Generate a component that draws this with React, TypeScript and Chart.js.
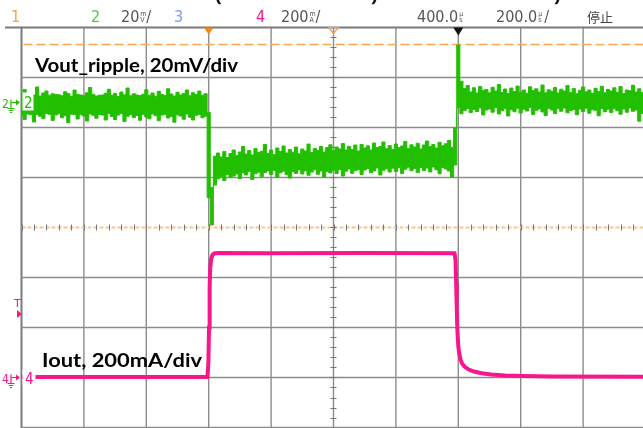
import React, { useEffect, useRef } from "react";
import { Chart, registerables } from "chart.js";

Chart.register(...registerables);

// ---- axes (oscilloscope screen) ----
const X_MIN_US = -600;
const X_MAX_US = 1400;
const X_DIV_US = 200;
const DIV_MIN = -4;
const DIV_MAX = 4;
const CH2_GROUND_DIV = 2.5;
const CH2_MV_PER_DIV = 20;
const CH4_GROUND_DIV = -3;
const CH4_MA_PER_DIV = 200;
const TRIG_LEVEL_DIV = 3.66;
const TRIG_TIME_US = 0;
const DELAY_TIME_US = 400;
const MARK_TIME_US = 800;

// ---- channel 2 (Vout ripple, mV), sampled every 10 us: envelope top / bottom ----
const SAMPLE_US = 10;
const PRE_START_US = -600;
const LOAD_START_US = 0;
const POST_START_US = 800;

const CH2_PRE_HI = [
  3.4, 5.2, 2.8, 3.1, 3.0, 6.2, 2.6, 3.8, 4.6, 2.9,
  3.5, 3.2, 3.1, 2.7, 4.3, 3.6, 2.5, 5.0, 3.2, 3.0,
  2.8, 3.9, 6.0, 3.3, 2.6, 2.9, 3.0, 3.7, 5.3, 2.9,
  3.6, 2.4, 4.2, 3.1, 5.8, 2.7, 3.5, 3.0, 2.8, 3.3,
  5.1, 2.9, 3.8, 2.5, 4.5, 3.2, 2.8, 5.5, 3.4, 2.6,
  4.1, 3.0, 3.6, 5.0, 2.7, 3.9, 3.2, 4.6, 2.9, 3.5,
];
const CH2_PRE_LO = [
  -5.2, -6.8, -4.6, -4.9, -7.8, -4.8, -5.5, -6.4, -4.4, -4.7,
  -7.2, -5.0, -4.5, -6.1, -5.3, -8.0, -4.7, -4.8, -6.6, -4.9,
  -5.4, -7.4, -4.6, -5.1, -6.3, -4.8, -5.0, -7.0, -4.5, -5.6,
  -6.8, -5.0, -4.4, -7.6, -5.5, -4.9, -6.0, -5.2, -7.1, -4.7,
  -5.8, -6.5, -4.6, -5.3, -7.3, -5.0, -4.8, -6.2, -5.6, -7.9,
  -4.9, -5.4, -6.7, -4.6, -5.9, -7.0, -5.1, -4.8, -6.1, -5.5,
];
const CH2_LOAD_HI = [
  -4.0, -34.0, -21.5, -20.2, -21.8, -19.6, -22.0, -20.4, -19.0, -21.2,
  -19.8, -17.6, -20.6, -19.2, -21.0, -18.4, -20.0, -19.5, -16.8, -20.3,
  -19.0, -20.8, -18.2, -19.6, -17.4, -20.2, -18.8, -19.9, -17.8, -20.5,
  -18.6, -19.4, -16.6, -20.0, -18.4, -19.2, -17.6, -19.8, -18.0, -16.9,
  -19.3, -17.8, -18.6, -16.4, -19.0, -17.5, -18.8, -17.0, -19.4, -16.8,
  -18.2, -17.3, -19.0, -16.2, -18.0, -17.6, -15.8, -18.5, -17.2, -18.8,
  -16.6, -18.1, -17.4, -15.6, -18.4, -16.9, -17.8, -16.3, -18.6, -17.0,
  -15.4, -17.6, -16.8, -18.2, -15.9, -17.3, -16.5, -15.2, -17.9, -10.0,
];
const CH2_LOAD_LO = [
  -38.0, -49.0, -33.0, -30.5, -29.6, -31.2, -28.8, -30.0, -29.4, -28.6,
  -30.4, -28.2, -29.0, -27.6, -30.8, -28.5, -27.9, -29.6, -28.0, -27.4,
  -28.8, -27.2, -29.8, -28.1, -27.5, -28.9, -30.2, -27.7, -28.4, -27.0,
  -28.6, -27.3, -29.1, -27.8, -26.9, -28.7, -27.4, -30.0, -27.6, -28.2,
  -27.1, -28.4, -26.8, -29.4, -27.5, -26.6, -28.3, -27.2, -26.9, -28.8,
  -27.0, -26.4, -28.1, -27.4, -26.2, -29.0, -27.1, -26.5, -27.8, -26.3,
  -27.6, -26.1, -28.4, -26.7, -25.9, -27.3, -26.4, -28.0, -26.0, -27.2,
  -26.2, -27.8, -25.8, -26.9, -28.5, -26.0, -26.6, -27.4, -30.0, -25.0,
];
const CH2_POST_HI = [
  23.0, 8.5, 5.6, 6.8, 4.2, 5.9, 3.8, 6.4, 4.9, 5.2,
  3.9, 6.1, 4.6, 7.2, 4.0, 5.4, 3.6, 5.8, 4.4, 6.6,
  4.1, 5.0, 3.7, 6.3, 4.8, 5.5, 4.2, 7.0, 3.9, 5.1,
  4.5, 6.0, 3.8, 5.3, 4.6, 6.8, 4.0, 5.6, 3.5, 4.9,
  6.2, 4.3, 5.0, 3.7, 5.7, 4.4, 6.5, 3.9, 5.2, 4.6,
  5.9, 4.1, 6.4, 3.6, 5.0, 4.7, 6.9, 4.2, 5.5, 4.0,
  5.3,
];
const CH2_POST_LO = [
  -2.0, -4.5, -3.2, -2.4, -4.0, -2.8, -3.6, -2.2, -5.0, -3.0,
  -2.6, -3.9, -2.1, -4.6, -3.3, -2.5, -5.4, -2.9, -3.7, -2.3,
  -4.2, -2.7, -3.4, -2.0, -4.8, -3.1, -2.6, -3.8, -5.2, -2.4,
  -3.0, -4.4, -2.5, -3.5, -2.2, -4.1, -3.2, -2.8, -4.9, -2.6,
  -3.6, -2.3, -4.3, -2.9, -3.1, -5.3, -2.4, -3.7, -2.7, -4.0,
  -2.5, -3.3, -4.7, -2.6, -3.9, -2.2, -3.5, -3.0, -7.5, -4.4,
  -3.2,
];

// ---- channel 4 (Iout, mA) ----
const CH4_T_US = [
  -600, -4, -1, 1, 3, 5, 8, 12, 18, 30, 200, 500, 788, 791, 793, 795, 797,
  800, 803, 807, 812, 820, 832, 850, 875, 905, 950, 1010, 1100, 1400,
];
const CH4_MA = [
  2, 2, 60, 200, 360, 440, 475, 490, 496, 498, 497, 498, 497, 470, 380, 280, 190,
  125, 95, 72, 56, 44, 33, 24, 17, 12, 8, 6, 4, 3,
];

// ---- texts ----
const LABEL_VOUT = "Vout_ripple, 20mV/div";
const LABEL_IOUT = "Iout, 200mA/div";
const STATUS_STOP = "停止";
const CUT_TITLE = [
  { s: "(", x: 215 },
  { s: ")", x: 371 },
  { s: ")", x: 554 },
];

const GREEN = "#22bf00";
const PINK = "#f7168b";
const ORANGE = "#f9a552";
const GRID = "#8c8c8c";

function seg(start: number, vals: number[]) {
  return vals.map((v, i) => ({ x: start + i * SAMPLE_US, y: v }));
}

export default function App() {
  const ref = useRef<HTMLCanvasElement>(null);
  useEffect(() => {
    const canvas = ref.current!;
    const hi = [
      ...seg(PRE_START_US, CH2_PRE_HI),
      ...seg(LOAD_START_US, CH2_LOAD_HI),
      ...seg(POST_START_US, CH2_POST_HI),
    ];
    const lo = [
      ...seg(PRE_START_US, CH2_PRE_LO),
      ...seg(LOAD_START_US, CH2_LOAD_LO),
      ...seg(POST_START_US, CH2_POST_LO),
    ];
    const pink = CH4_T_US.map((t, i) => ({ x: t, y: CH4_MA[i] }));

    const narrow = "'Liberation Sans Narrow', 'DejaVu Sans Condensed', sans-serif";

    const scopePlugin = {
      id: "scope",
      beforeDatasetsDraw(chart: any) {
        const { ctx, chartArea: a, scales } = chart;
        const xs = scales.x;
        const yd = scales.yD;
        ctx.save();
        // vertical grid
        for (let t = X_MIN_US; t <= X_MAX_US; t += X_DIV_US) {
          const x = xs.getPixelForValue(t);
          ctx.strokeStyle = t === X_MIN_US ? "#7a7a7a" : GRID;
          ctx.lineWidth = t === X_MIN_US ? 2 : 1.4;
          ctx.beginPath();
          ctx.moveTo(x, a.top);
          ctx.lineTo(x, a.bottom + 3);
          ctx.stroke();
        }
        // horizontal grid
        for (let d = DIV_MIN; d <= DIV_MAX; d++) {
          if (d === 0) continue;
          const y = yd.getPixelForValue(d);
          ctx.strokeStyle = d === DIV_MAX ? "#7a7a7a" : GRID;
          ctx.lineWidth = d === DIV_MAX ? 2 : 1.4;
          ctx.beginPath();
          ctx.moveTo(d === DIV_MAX ? 5 : a.left, y);
          ctx.lineTo(a.right + 5, y);
          ctx.stroke();
        }
        // centre horizontal (ch1 trace, orange dotted) with ticks
        const yc = yd.getPixelForValue(0);
        ctx.strokeStyle = "#f8c690";
        ctx.lineWidth = 2;
        ctx.setLineDash([4, 2]);
        ctx.beginPath();
        ctx.moveTo(a.left, yc);
        ctx.lineTo(a.right + 5, yc);
        ctx.stroke();
        ctx.setLineDash([]);
        ctx.strokeStyle = "#777";
        ctx.lineWidth = 1;
        for (let t = X_MIN_US; t <= X_MAX_US; t += X_DIV_US / 5) {
          const x = Math.round(xs.getPixelForValue(t)) + 0.5;
          ctx.beginPath();
          ctx.moveTo(x, yc - 3);
          ctx.lineTo(x, yc + 3);
          ctx.stroke();
        }
        // centre vertical with ticks
        const xc = xs.getPixelForValue(DELAY_TIME_US);
        for (let d = DIV_MIN; d <= DIV_MAX; d += 0.2) {
          const y = Math.round(yd.getPixelForValue(d)) + 0.5;
          ctx.beginPath();
          ctx.moveTo(xc - 3, y);
          ctx.lineTo(xc + 3, y);
          ctx.stroke();
        }
        // trigger level dashed line
        const yt = yd.getPixelForValue(TRIG_LEVEL_DIV);
        ctx.strokeStyle = ORANGE;
        ctx.lineWidth = 1.6;
        ctx.setLineDash([9, 4]);
        ctx.beginPath();
        ctx.moveTo(a.left + 2, yt);
        ctx.lineTo(a.right + 5, yt);
        ctx.stroke();
        ctx.setLineDash([]);
        ctx.restore();
      },
      afterDatasetsDraw(chart: any) {
        const { ctx, chartArea: a, scales } = chart;
        const xs = scales.x;
        const yG = scales.yG;
        const yP = scales.yP;
        ctx.save();
        // top markers
        const tri = (x: number, fill: string | null, stroke: string | null, h: number) => {
          ctx.beginPath();
          ctx.moveTo(x - 5, a.top);
          ctx.lineTo(x + 5, a.top);
          ctx.lineTo(x, a.top + h);
          ctx.closePath();
          if (fill) { ctx.fillStyle = fill; ctx.fill(); }
          if (stroke) { ctx.strokeStyle = stroke; ctx.lineWidth = 1.2; ctx.stroke(); }
        };
        tri(xs.getPixelForValue(TRIG_TIME_US), "#f08a1c", null, 7);
        tri(xs.getPixelForValue(DELAY_TIME_US), null, "#f0a050", 6);
        tri(xs.getPixelForValue(MARK_TIME_US), "#111", null, 8);

        // channel labels inside screen
        const y2 = yG.getPixelForValue(0);
        const y4 = yP.getPixelForValue(0);
        ctx.fillStyle = "#fff";
        ctx.fillRect(a.left + 1, y2 - 10, 11, 18);
        ctx.fillRect(a.left + 1, y4 - 8, 13, 16);
        ctx.font = "15px 'DejaVu Sans Condensed', sans-serif";
        ctx.textBaseline = "alphabetic";
        ctx.fillStyle = GREEN;
        ctx.fillText("2", a.left + 2.5, y2 + 5);
        ctx.fillStyle = PINK;
        ctx.fillText("4", a.left + 3.5, y4 + 6);

        // left margin markers
        const gnd = (x: number, y: number, col: string, label: string) => {
          ctx.fillStyle = col;
          ctx.strokeStyle = col;
          ctx.font = "12px 'DejaVu Sans Condensed', sans-serif";
          ctx.fillText(label, 2, y + 5);
          ctx.lineWidth = 1.2;
          ctx.beginPath();
          ctx.moveTo(x, y);
          ctx.lineTo(x + 6, y);
          ctx.moveTo(x, y - 3);
          ctx.lineTo(x, y + 6);
          ctx.moveTo(x - 3.5, y + 6);
          ctx.lineTo(x + 3.5, y + 6);
          ctx.moveTo(x - 2.2, y + 8);
          ctx.lineTo(x + 2.2, y + 8);
          ctx.moveTo(x - 1, y + 10);
          ctx.lineTo(x + 1, y + 10);
          ctx.stroke();
          ctx.beginPath();
          ctx.moveTo(x + 5, y - 3);
          ctx.lineTo(x + 9, y);
          ctx.lineTo(x + 5, y + 3);
          ctx.closePath();
          ctx.fill();
        };
        gnd(11, y2, GREEN, "2");
        gnd(11, y4, PINK, "4");
        // trigger "T"
        ctx.fillStyle = PINK;
        ctx.font = "11px 'DejaVu Sans', sans-serif";
        ctx.fillText("T", 14, 307);
        ctx.beginPath();
        ctx.moveTo(17, 310);
        ctx.lineTo(22, 314);
        ctx.lineTo(17, 318);
        ctx.closePath();
        ctx.fill();

        // annotations
        const fitText = (s: string, x: number, y: number, w: number) => {
          ctx.font = "bold 19px Lato, 'Open Sans', sans-serif";
          const m = ctx.measureText(s).width;
          ctx.save();
          ctx.translate(x, y);
          ctx.scale(w / m, 1);
          ctx.fillStyle = "#000";
          ctx.fillText(s, 0, 0);
          ctx.restore();
        };
        fitText(LABEL_VOUT, 35, 72, 203);
        fitText(LABEL_IOUT, 42, 367, 160);

        // cut-off title line at the very top
        ctx.font = "bold 20px 'Open Sans', sans-serif";
        ctx.fillStyle = "#111";
        for (const c of CUT_TITLE) ctx.fillText(c.s, c.x, 1);

        // status bar
        const base = 22;
        const txt = (s: string, x: number, col: string) => {
          ctx.font = "16px " + narrow;
          ctx.fillStyle = col;
          ctx.fillText(s, x, base);
          return x + ctx.measureText(s).width;
        };
        const unit = (top: string, bot: string, x: number) => {
          ctx.font = "7px " + narrow;
          ctx.fillStyle = "#555";
          ctx.fillText(top, x, base - 6);
          ctx.fillText(bot, x, base);
          return x + 6;
        };
        txt("1", 11, "#f5a53a");
        txt("2", 91, "#4cc84c");
        let e = txt("20", 121, "#555");
        e = unit("m", "V", e + 1);
        txt("/", e, "#555");
        txt("3", 174, "#8a95f0");
        txt("4", 256, PINK);
        e = txt("200", 281, "#555");
        e = unit("m", "A", e + 1);
        txt("/", e, "#555");
        e = txt("400.0", 417, "#555");
        unit("µ", "s", e + 1);
        e = txt("200.0", 496, "#555");
        e = unit("µ", "s", e + 1);
        txt("/", e, "#555");
        ctx.font = "13px 'Noto Sans CJK SC', sans-serif";
        ctx.fillStyle = "#444";
        ctx.fillText(STATUS_STOP, 587, base);
        ctx.restore();
      },
    };

    const chart = new Chart(canvas, {
      type: "line",
      data: {
        datasets: [
          {
            data: hi,
            yAxisID: "yG",
            borderColor: GREEN,
            backgroundColor: GREEN,
            borderWidth: 1,
            pointRadius: 0,
            fill: "+1",
            stepped: "middle",
          },
          {
            data: lo,
            yAxisID: "yG",
            borderColor: GREEN,
            borderWidth: 1,
            pointRadius: 0,
            fill: false,
            stepped: "middle",
          },
          {
            data: pink,
            yAxisID: "yP",
            borderColor: PINK,
            borderWidth: 4,
            pointRadius: 0,
            fill: false,
            tension: 0,
          },
        ],
      },
      options: {
        responsive: false,
        animation: false,
        events: [],
        layout: { padding: { left: 21.5, top: 27.5, right: 4.5, bottom: 2.5 } },
        plugins: { legend: { display: false }, tooltip: { enabled: false } },
        scales: {
          x: { type: "linear", min: X_MIN_US, max: X_MAX_US, display: false },
          yD: { type: "linear", min: DIV_MIN, max: DIV_MAX, display: false },
          yG: {
            type: "linear",
            min: (DIV_MIN - CH2_GROUND_DIV) * CH2_MV_PER_DIV,
            max: (DIV_MAX - CH2_GROUND_DIV) * CH2_MV_PER_DIV,
            display: false,
          },
          yP: {
            type: "linear",
            min: (DIV_MIN - CH4_GROUND_DIV) * CH4_MA_PER_DIV,
            max: (DIV_MAX - CH4_GROUND_DIV) * CH4_MA_PER_DIV,
            display: false,
          },
        },
      },
      plugins: [scopePlugin],
    });
    return () => chart.destroy();
  }, []);

  return (
    <div
      style={{
        position: "absolute",
        left: 0,
        top: 0,
        width: 643,
        height: 428,
        overflow: "hidden",
        background: "#fff",
      }}
    >
      <canvas ref={ref} width={650} height={430} style={{ display: "block" }} />
    </div>
  );
}
